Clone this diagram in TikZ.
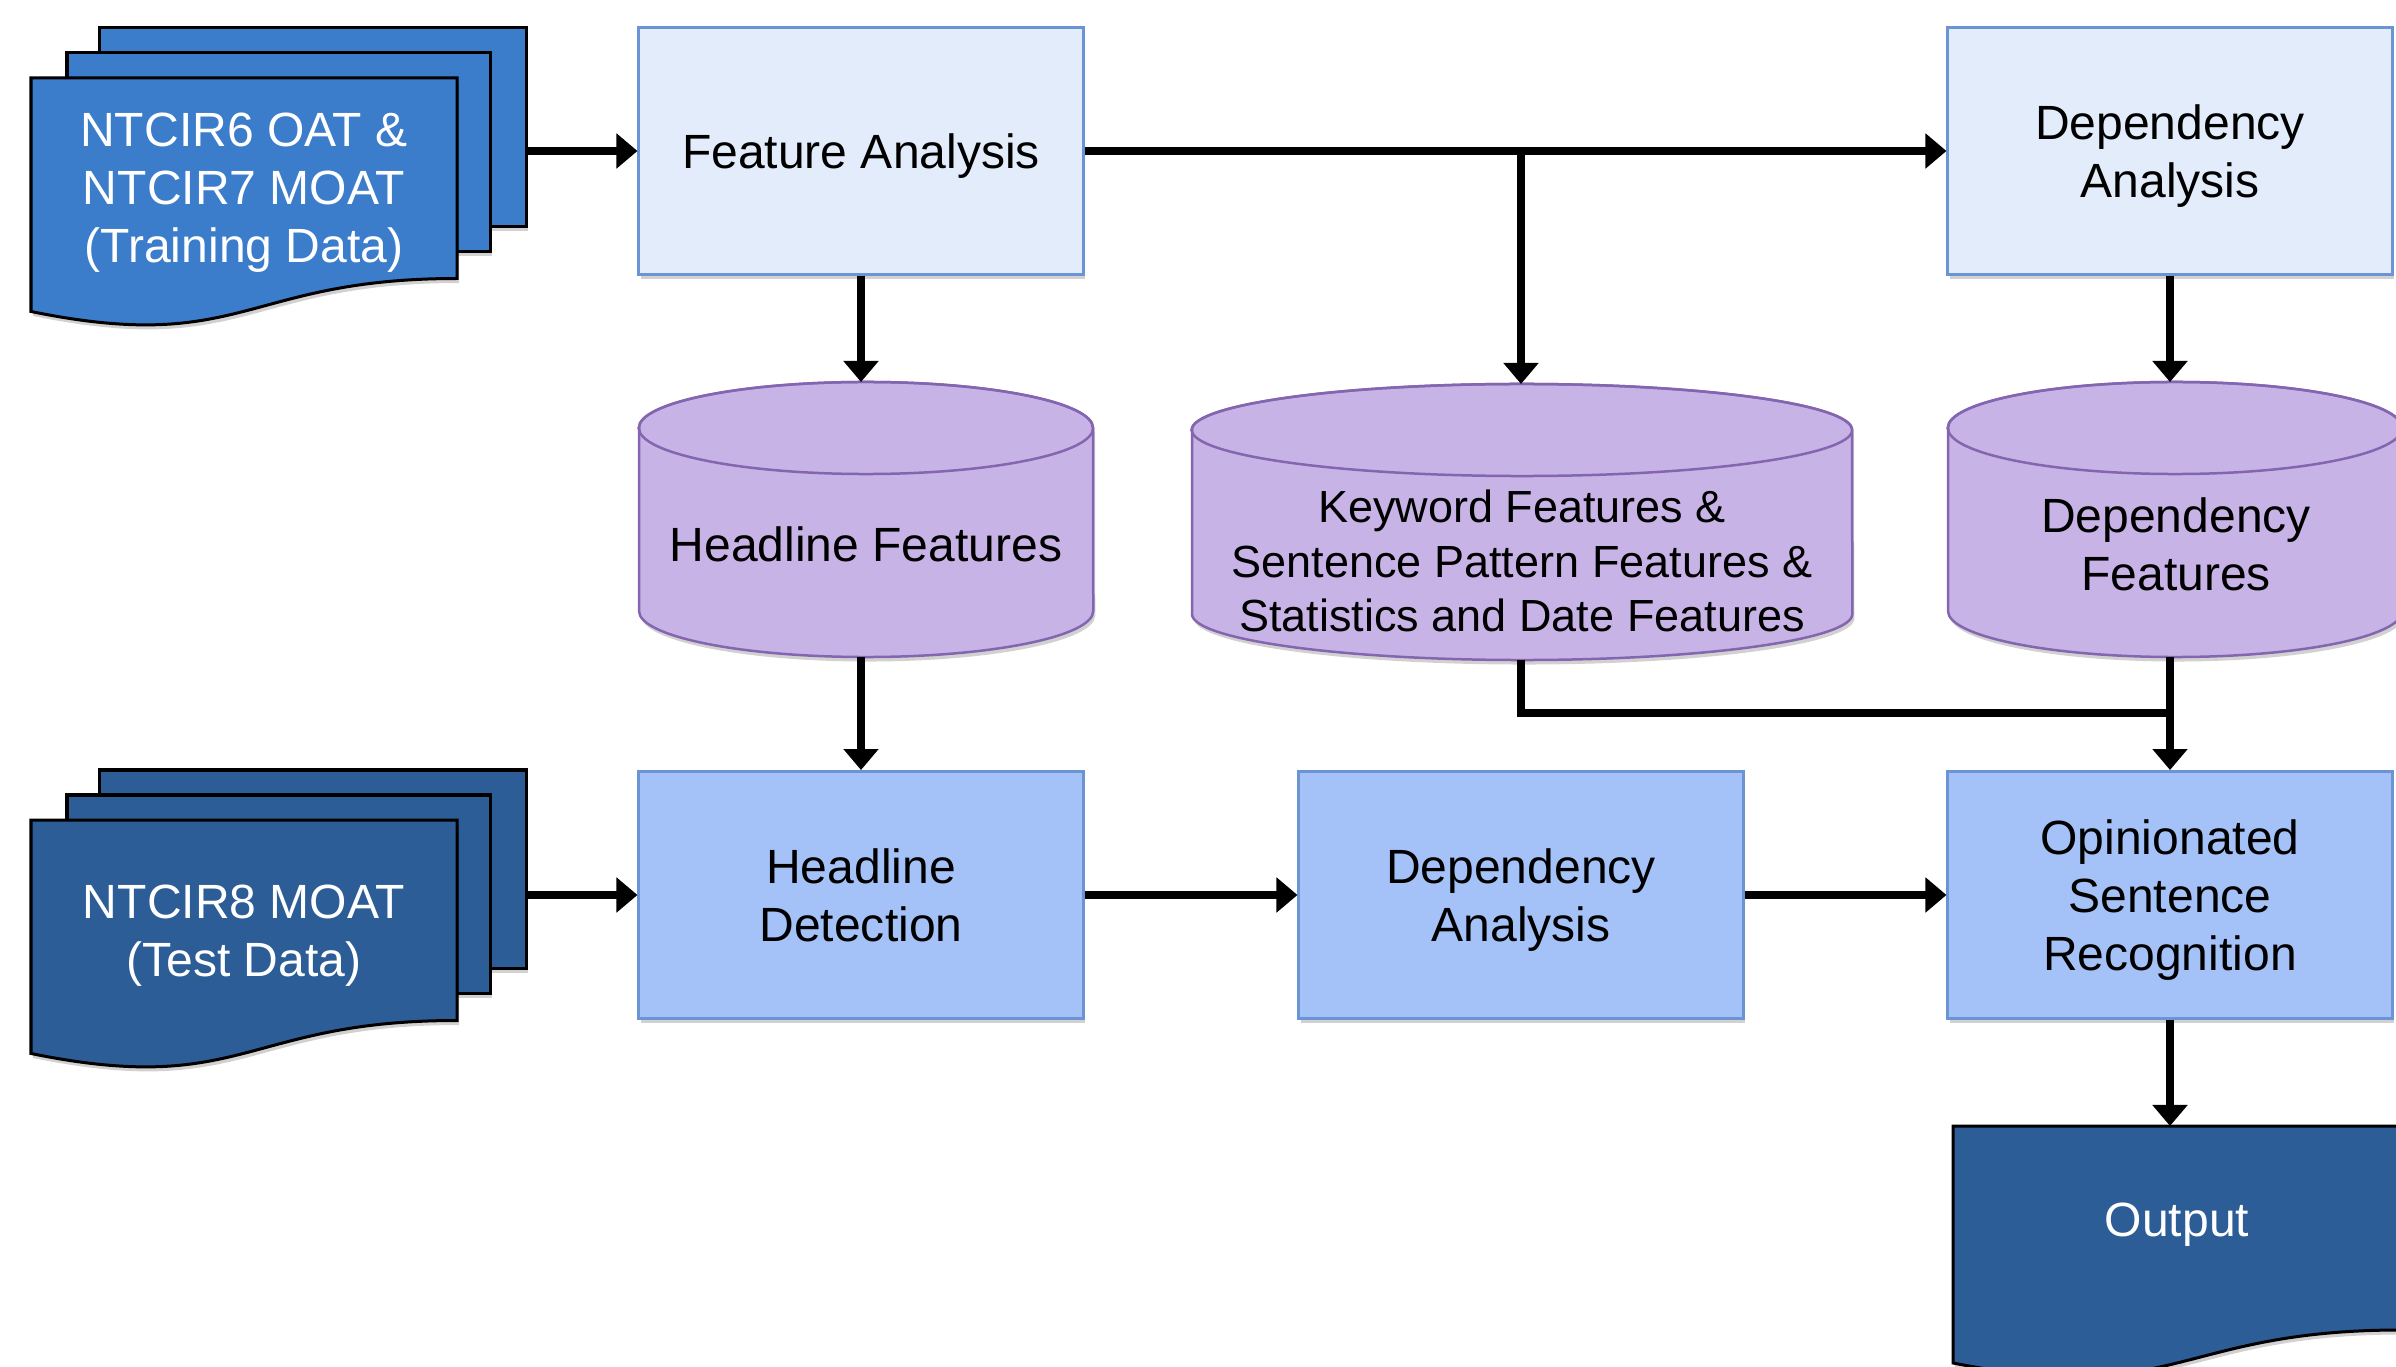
\documentclass[tikz,border=0pt]{standalone}
\usepackage{fontspec}
\setmainfont{Liberation Sans}
\usetikzlibrary{arrows.meta,shadows}

\definecolor{boxlight}{HTML}{E3ECFB}
\definecolor{boxmid}{HTML}{A4C2F7}
\definecolor{boxedge}{HTML}{6A94D4}
\definecolor{cylfill}{HTML}{C8B3E6}
\definecolor{cyledge}{HTML}{8466B0}
\definecolor{trainfill}{HTML}{3B7CCB}
\definecolor{testfill}{HTML}{2C5D97}

\newcommand\bodyfs{\fontsize{13.66}{16.5}\selectfont}
\newcommand\kwfs{\fontsize{12.8}{15.4}\selectfont}

\begin{document}
\begin{tikzpicture}[x=0.01cm,y=0.01cm,
  soft shadow/.style={drop shadow={shadow xshift=0.02cm,shadow yshift=-0.045cm,opacity=0.18,fill=black}},
  procbox/.style={draw=boxedge,line width=0.028cm,minimum width=4.44cm,minimum height=2.47cm,
    inner sep=0pt,soft shadow},
  lightbox/.style={procbox,fill=boxlight},
  midbox/.style={procbox,fill=boxmid},
  cylbody/.style={draw=cyledge,fill=cylfill,line width=0.025cm},
  docpage/.style={draw=black,line width=0.03cm,soft shadow},
  lbl/.style={align=center,inner sep=0pt,font=\bodyfs},
  boxtext/.style={lbl,yshift=-0.055cm},
  arr/.style={line width=0.075cm,-{Triangle[width=0.34cm,length=0.21cm]}},
  link/.style={line width=0.075cm}]

\useasboundingbox (0,0) rectangle (2396,-1367);

% ---------- training data (stacked documents) ----------
\path[docpage,fill=trainfill] (99,-28) rectangle (526,-227);
\path[docpage,fill=trainfill] (67,-53) rectangle (490,-252);
\path[docpage,fill=trainfill] (31,-78) -- (457,-78) -- (457,-278.5)
  .. controls (244,-278.5) and (244,-355) .. (31,-311.5) -- cycle;
\node[boxtext,text=white] (train) at (244,-187) {NTCIR6 OAT \&\\NTCIR7 MOAT\\(Training Data)};
\coordinate (trainR) at (526,-127);

% ---------- test data (stacked documents) ----------
\path[docpage,fill=testfill] (99,-770) rectangle (526,-968);
\path[docpage,fill=testfill] (67,-795) rectangle (490,-993);
\path[docpage,fill=testfill] (31,-820) -- (457,-820) -- (457,-1020.5)
  .. controls (244,-1020.5) and (244,-1097) .. (31,-1053.5) -- cycle;
\node[boxtext,text=white] (test) at (244,-930) {NTCIR8 MOAT\\(Test Data)};
\coordinate (testR) at (526,-870);

% ---------- process boxes ----------
\node[lightbox] (fa)  at (861,-151)  {};
\node[lightbox] (da1) at (2170,-151) {};
\node[midbox]   (hd)  at (861,-895)  {};
\node[midbox]   (da2) at (1521,-895) {};
\node[midbox]   (osr) at (2170,-895) {};
\node[boxtext] (fa-t)  at (fa)  {Feature Analysis};
\node[boxtext] (da1-t) at (da1) {Dependency\\Analysis};
\node[lbl]     (hd-t)  at (hd)  {Headline\\Detection};
\node[boxtext] (da2-t) at (da2) {Dependency\\Analysis};
\node[boxtext] (osr-t) at (osr) {Opinionated\\Sentence\\Recognition};

% ---------- feature stores (cylinders) ----------
% headline features
\path[cylbody,soft shadow] (639,-428) -- (639,-611)
  arc[start angle=180,end angle=360,x radius=2.27cm,y radius=0.46cm] -- (1093,-428)
  arc[start angle=0,end angle=180,x radius=2.27cm,y radius=0.46cm] -- cycle;
\draw[cyledge,line width=0.025cm] (866,-428) ellipse [x radius=2.27cm,y radius=0.46cm];
\node[lbl] (hf) at (866,-544) {Headline Features};
\coordinate (hftop) at (866,-382);
\coordinate (hfbot) at (866,-657);

% keyword / sentence pattern / statistics features
\path[cylbody,soft shadow] (1192,-430) -- (1192,-614)
  arc[start angle=180,end angle=360,x radius=3.30cm,y radius=0.46cm] -- (1852,-430)
  arc[start angle=0,end angle=180,x radius=3.30cm,y radius=0.46cm] -- cycle;
\draw[cyledge,line width=0.025cm] (1522,-430) ellipse [x radius=3.30cm,y radius=0.46cm];
\node[lbl,font=\kwfs] (kw) at (1522,-561)
  {Keyword Features \&\\Sentence Pattern Features \&\\Statistics and Date Features};
\coordinate (kwtop) at (1521,-384);
\coordinate (kwbot) at (1521,-660);

% dependency features
\path[cylbody,soft shadow] (1948,-428) -- (1948,-611)
  arc[start angle=180,end angle=360,x radius=2.27cm,y radius=0.46cm] -- (2402,-428)
  arc[start angle=0,end angle=180,x radius=2.27cm,y radius=0.46cm] -- cycle;
\draw[cyledge,line width=0.025cm] (2175,-428) ellipse [x radius=2.27cm,y radius=0.46cm];
\node[lbl] (df) at (2176,-544) {Dependency\\Features};
\coordinate (dftop) at (2170,-382);
\coordinate (dfbot) at (2170,-657);

% ---------- output document ----------
\path[docpage,fill=testfill] (1953,-1126) -- (2401,-1126) -- (2401,-1330)
  .. controls (2177,-1330) and (2177,-1407) .. (1953,-1363) -- cycle;
\node[boxtext,text=white] (out) at (2177,-1219) {Output};
\coordinate (outtop) at (2170,-1126);

% ---------- connectors ----------
\draw[arr] (fa.west -| trainR) -- (fa.west);
\draw[arr] (fa.east) -- (da1.west);
\draw[arr] (fa.east -| kwtop) -- (kwtop);
\draw[arr] (fa.south) -- (fa.south |- hftop);
\draw[arr] (da1.south) -- (dftop);
\draw[arr] (hd.north |- hfbot) -- (hd.north);
\draw[link] (kwbot) |- (2170,-713);
\draw[arr] (dfbot) -- (osr.north);
\draw[arr] (hd.west -| testR) -- (hd.west);
\draw[arr] (hd.east) -- (da2.west);
\draw[arr] (da2.east) -- (osr.west);
\draw[arr] (osr.south) -- (outtop);

\end{tikzpicture}
\end{document}
